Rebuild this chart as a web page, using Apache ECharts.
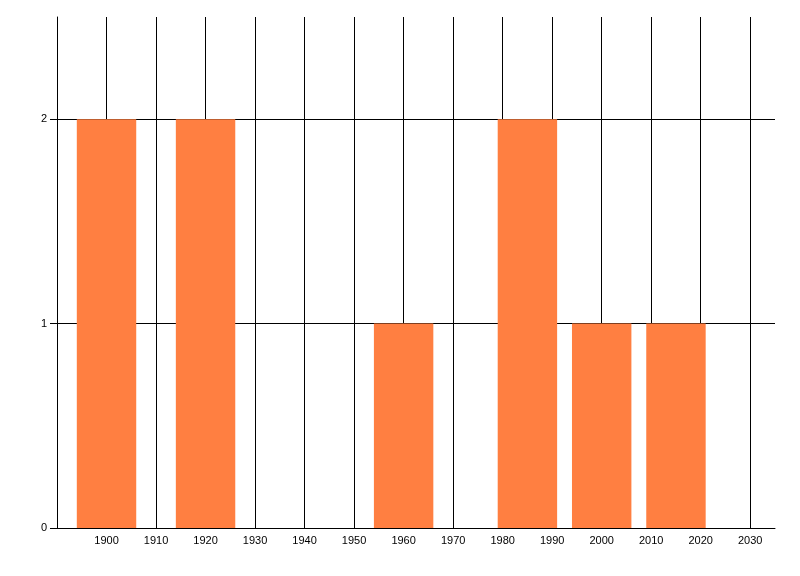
<!DOCTYPE html>
<html>
<head>
<meta charset="utf-8">
<script src="https://cdn.jsdelivr.net/npm/echarts@6/dist/echarts.min.js"></script>
<style>html,body{margin:0;padding:0;background:#fff}#c{width:800px;height:576px}</style>
</head>
<body>
<div id="c"></div>
<script>
// Data
const binCenters = [1900, 1920, 1960, 1985, 2000, 2015];
const counts = [2, 2, 1, 2, 1, 1];
const binWidth = 12;
const xMin = 1890, xMax = 2035, xStep = 10;
const yMin = 0, yMax = 2.5, yStep = 1;

const chart = echarts.init(document.getElementById('c'));
const font = {fontFamily: 'Liberation Sans, Arial, sans-serif', fontSize: 11, color: '#000'};
chart.setOption({
  animation: false,
  grid: {left: 57, right: 25, top: 17, bottom: 48},
  xAxis: {
    type: 'value', min: xMin, max: xMax, interval: xStep,
    axisLine: {show: true, lineStyle: {color: '#000', width: 1}},
    axisTick: {show: false},
    splitLine: {show: true, showMaxLine: false, lineStyle: {color: '#000', width: 1}},
    axisLabel: Object.assign({margin: 7, showMaxLabel: false,
      formatter: v => (v === xMin ? '' : String(v))}, font)
  },
  yAxis: {
    type: 'value', min: yMin, max: yMax, interval: yStep,
    axisLine: {show: true, lineStyle: {color: '#000', width: 1}},
    axisTick: {show: true, length: 7, lineStyle: {color: '#000'}},
    splitLine: {show: true, showMaxLine: false, lineStyle: {color: '#000', width: 1}},
    axisLabel: Object.assign({margin: 10, showMaxLabel: false,
      formatter: v => (v % 1 === 0 ? String(v) : '')}, font)
  },
  series: [{
    type: 'custom',
    data: binCenters.map((c, i) => [c, counts[i]]),
    encode: {x: 0, y: 1},
    renderItem: function (params, api) {
      const c = api.value(0), v = api.value(1);
      const p0 = api.coord([c - binWidth / 2, v]);
      const p1 = api.coord([c + binWidth / 2, 0]);
      return {
        type: 'rect',
        shape: {x: p0[0], y: p0[1], width: p1[0] - p0[0], height: p1[1] - p0[1]},
        style: {fill: '#FF7F41'}
      };
    }
  }]
});
</script>
</body>
</html>
